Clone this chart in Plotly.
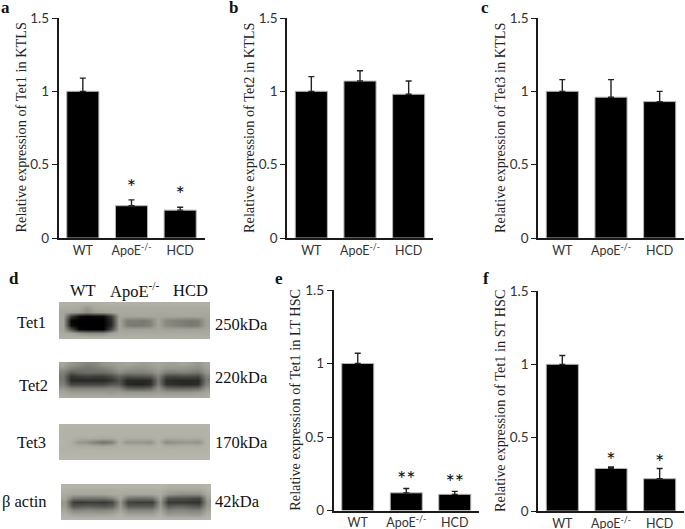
import plotly.graph_objects as go

W, H = 685, 529

groups = ["WT", "ApoE<sup>-/-</sup>", "HCD"]

# bar panels
vals_a = [1.0, 0.22, 0.19]
errs_a = [0.09, 0.04, 0.02]
vals_b = [1.0, 1.07, 0.98]
errs_b = [0.10, 0.07, 0.09]
vals_c = [1.0, 0.96, 0.93]
errs_c = [0.08, 0.12, 0.07]
vals_e = [1.0, 0.12, 0.11]
errs_e = [0.07, 0.03, 0.02]
vals_f = [1.0, 0.29, 0.22]
errs_f = [0.06, 0.01, 0.07]

star_groups = ["ApoE<sup>-/-</sup>", "HCD"]
stars_a = ["*", "*"]
star_y_a = [0.33, 0.28]
stars_e = ["**", "**"]
star_y_e = [0.20, 0.18]
stars_f = ["*", "*"]
star_y_f = [0.33, 0.32]

ticks_y = [0, 0.5, 1, 1.5]
tick_text = ["0", "0.5", "1", "1.5"]

# western blot, grey levels (rows top to bottom)
blot_tet1 = [
    [176, 176, 174, 172, 174, 176, 176, 176, 176, 176, 176, 176, 176, 176, 176, 176, 176, 176, 176],
    [170, 170, 168, 150, 168, 170, 170, 170, 170, 170, 170, 170, 170, 170, 170, 170, 170, 170, 170],
    [165, 160, 155, 140, 155, 160, 165, 170, 168, 168, 168, 168, 168, 168, 168, 168, 168, 168, 168],
    [165, 60, 15, 5, 10, 10, 60, 165, 165, 165, 165, 165, 165, 165, 165, 165, 165, 165, 165],
    [165, 5, 0, 0, 0, 0, 40, 165, 125, 125, 120, 130, 165, 135, 130, 125, 120, 125, 160],
    [165, 10, 0, 0, 0, 0, 40, 165, 125, 120, 120, 130, 165, 140, 130, 125, 120, 125, 160],
    [165, 80, 5, 0, 0, 0, 70, 165, 160, 160, 160, 160, 165, 160, 160, 160, 160, 160, 165],
    [170, 165, 150, 140, 140, 140, 160, 170, 170, 170, 170, 170, 170, 170, 170, 170, 170, 170, 170],
    [176, 176, 176, 176, 176, 176, 176, 176, 176, 176, 176, 176, 176, 176, 176, 176, 176, 176, 176],
]
blot_tet2 = [
    [165, 150, 140, 130, 135, 150, 155, 160, 165, 160, 155, 160, 165, 160, 160, 165, 160, 150, 165],
    [150, 130, 120, 115, 120, 130, 140, 155, 150, 145, 145, 150, 160, 150, 150, 150, 145, 140, 160],
    [130, 95, 105, 110, 110, 110, 120, 140, 130, 130, 130, 135, 150, 125, 125, 130, 125, 120, 150],
    [120, 50, 60, 65, 60, 60, 75, 100, 80, 85, 85, 90, 130, 75, 70, 75, 75, 70, 130],
    [120, 40, 40, 40, 40, 40, 50, 80, 40, 40, 40, 45, 120, 45, 40, 40, 40, 40, 120],
    [130, 70, 70, 70, 70, 70, 85, 90, 40, 35, 35, 45, 125, 50, 45, 40, 40, 45, 130],
    [150, 130, 130, 130, 130, 130, 135, 130, 95, 90, 90, 100, 145, 105, 100, 100, 100, 105, 150],
    [165, 155, 155, 155, 155, 155, 150, 155, 150, 150, 150, 150, 155, 150, 150, 150, 150, 155, 165],
    [172, 170, 170, 170, 170, 170, 170, 170, 170, 170, 170, 170, 170, 170, 170, 170, 170, 170, 172],
]
blot_tet3 = [
    [180, 180, 180, 180, 180, 180, 180, 180, 180, 180, 180, 180, 180, 180, 180, 180, 180, 180, 180],
    [178, 178, 178, 178, 178, 178, 178, 178, 178, 178, 178, 178, 178, 178, 178, 178, 178, 178, 178],
    [178, 178, 178, 178, 178, 178, 178, 178, 178, 178, 178, 178, 178, 178, 178, 178, 178, 178, 178],
    [178, 176, 172, 172, 170, 168, 170, 176, 172, 172, 172, 172, 178, 168, 170, 172, 172, 170, 178],
    [180, 175, 150, 145, 130, 115, 125, 175, 150, 150, 150, 145, 178, 140, 145, 150, 150, 145, 178],
    [178, 176, 172, 172, 170, 168, 170, 176, 174, 174, 174, 172, 178, 172, 172, 174, 174, 172, 178],
    [178, 178, 178, 178, 178, 178, 178, 178, 178, 178, 178, 178, 178, 178, 178, 178, 178, 178, 178],
    [180, 180, 180, 180, 180, 180, 180, 180, 180, 180, 180, 180, 180, 180, 180, 180, 180, 180, 180],
    [182, 182, 182, 182, 182, 182, 182, 182, 182, 182, 182, 182, 182, 182, 182, 182, 182, 182, 182],
]
blot_actin = [
    [180, 180, 180, 180, 180, 180, 180, 180, 180, 180, 180, 180, 180, 176, 176, 176, 176, 176, 180],
    [175, 172, 172, 172, 172, 172, 172, 175, 172, 172, 172, 172, 175, 165, 165, 165, 165, 165, 175],
    [170, 165, 165, 165, 165, 165, 170, 170, 165, 165, 165, 165, 170, 150, 145, 140, 140, 140, 170],
    [165, 120, 115, 115, 115, 115, 130, 165, 115, 110, 110, 115, 165, 85, 80, 80, 75, 70, 160],
    [150, 60, 55, 60, 60, 55, 70, 150, 65, 60, 60, 60, 150, 55, 55, 55, 50, 50, 150],
    [155, 85, 90, 95, 90, 85, 95, 155, 90, 90, 90, 90, 155, 90, 100, 100, 90, 85, 155],
    [165, 135, 135, 140, 135, 135, 140, 165, 135, 135, 135, 135, 165, 130, 135, 135, 130, 130, 165],
    [175, 160, 160, 160, 160, 160, 165, 175, 160, 160, 160, 160, 175, 150, 155, 155, 150, 150, 175],
    [182, 180, 180, 180, 180, 180, 180, 182, 180, 180, 180, 180, 182, 178, 178, 178, 178, 178, 182],
]

SERIF = "Liberation Serif"
SANS = "Lato"
AXIS_COL = "#1a1a1a"
TICK_COL = "#333333"


def frac_x(px):
    return px / W


def frac_y(px):
    return 1 - px / H


fig = go.Figure()
notes = []


def label(text, x, y, size=15, anchor="center", bold=False, color="#111111", angle=0):
    notes.append(dict(
        text="<b>%s</b>" % text if bold else text, x=frac_x(x), y=frac_y(y),
        xref="paper", yref="paper", xanchor=anchor, yanchor="middle", showarrow=False,
        textangle=angle, font=dict(family=SERIF, size=size, color=color),
    ))


# (axis id, values, errors, title, left, right, top, bottom)
panels = [
    ("", vals_a, errs_a, "Relative expression of Tet1 in KTLS", 58.5, 204.5, 18, 238),
    ("2", vals_b, errs_b, "Relative expression of Tet2 in KTLS", 287, 433, 18, 238),
    ("3", vals_c, errs_c, "Relative expression of Tet3 in KTLS", 538, 684, 18, 238),
    ("4", vals_e, errs_e, "Relative expression of Tet1 in LT HSC", 333.5, 479, 290, 510.5),
    ("5", vals_f, errs_f, "Relative expression of Tet1 in ST HSC", 538, 684, 291, 511),
]

layout = {}
for ax, vals, errs, title, left, right, top, bottom in panels:
    fig.add_trace(go.Bar(
        x=groups, y=vals, xaxis="x" + ax, yaxis="y" + ax,
        marker=dict(color="black", line=dict(color="#b4b4b4", width=1)),
        error_y=dict(type="data", symmetric=False, array=errs, arrayminus=[0, 0, 0],
                     color="#222222", thickness=1.4, width=3),
        showlegend=False,
    ))
    layout["xaxis" + ax] = dict(
        domain=[frac_x(left), frac_x(right)], anchor="y" + ax,
        showline=True, linecolor=AXIS_COL, linewidth=1.5, ticks="",
        tickfont=dict(family=SANS, size=12.5, color=TICK_COL), fixedrange=True,
    )
    layout["yaxis" + ax] = dict(
        domain=[frac_y(bottom), frac_y(top)], anchor="x" + ax, range=[0, 1.5],
        tickvals=ticks_y, ticktext=tick_text,
        showline=True, linecolor=AXIS_COL, linewidth=1.5, ticks="outside", ticklen=5,
        tickcolor=AXIS_COL, showgrid=False, zeroline=False,
        tickfont=dict(family=SANS, size=13.5, color=TICK_COL),
    )
    label(title, left - 38, (top + bottom) / 2, size=14.3, color="#222222", angle=-90)

# significance stars
for ax, stars, star_y in [("", stars_a, star_y_a), ("4", stars_e, star_y_e), ("5", stars_f, star_y_f)]:
    fig.add_trace(go.Scatter(
        x=star_groups, y=star_y, text=stars, mode="text", xaxis="x" + ax, yaxis="y" + ax,
        textposition="middle center", textfont=dict(family=SANS, size=22, color="#111111"),
        showlegend=False,
    ))

# western blot strips: (axis id, grey levels, left, right, top, bottom)
strips = [
    ("6", blot_tet1, 59, 210, 302, 339),
    ("7", blot_tet2, 59, 210, 362, 398),
    ("8", blot_tet3, 59, 210, 424, 460),
    ("9", blot_actin, 61, 211, 484, 520),
]
for ax, grey, left, right, top, bottom in strips:
    fig.add_trace(go.Heatmap(
        z=grey, xaxis="x" + ax, yaxis="y" + ax, zmin=0, zmax=255, zsmooth="best",
        colorscale=[[0, "#000000"], [0.7, "#b3b3a9"], [1, "#ffffff"]], showscale=False,
    ))
    layout["xaxis" + ax] = dict(domain=[frac_x(left), frac_x(right)], anchor="y" + ax, visible=False)
    layout["yaxis" + ax] = dict(domain=[frac_y(bottom), frac_y(top)], anchor="x" + ax, visible=False,
                                autorange="reversed")

# panel letters
label("a", 5, 7, size=17, bold=True)
label("b", 233, 7, size=17, bold=True)
label("c", 485, 7, size=17, bold=True)
label("d", 14, 278, size=17, bold=True)
label("e", 279, 278, size=17, bold=True)
label("f", 486, 278, size=17, bold=True)

# blot labels
label("WT", 83, 290, size=16.5)
label("ApoE<sup>-/-</sup>", 135, 290, size=16.5)
label("HCD", 190, 290, size=16.5)
label("Tet1", 32, 323, size=16.5)
label("Tet2", 33, 385, size=16.5)
label("Tet3", 32, 442, size=16.5)
label("β actin", 25, 501, size=16.5)
label("250kDa", 213, 324, size=16.5, anchor="left")
label("220kDa", 213, 377, size=16.5, anchor="left")
label("170kDa", 213, 442, size=16.5, anchor="left")
label("42kDa", 213, 501, size=16.5, anchor="left")

fig.update_layout(
    width=W, height=H, margin=dict(l=0, r=0, t=0, b=0, autoexpand=False),
    paper_bgcolor="white", plot_bgcolor="white",
    bargap=0.34, annotations=notes, **layout,
)

fig.write_html("out.html", config=dict(displayModeBar=False),
               post_script="document.body.style.margin = '0';")
